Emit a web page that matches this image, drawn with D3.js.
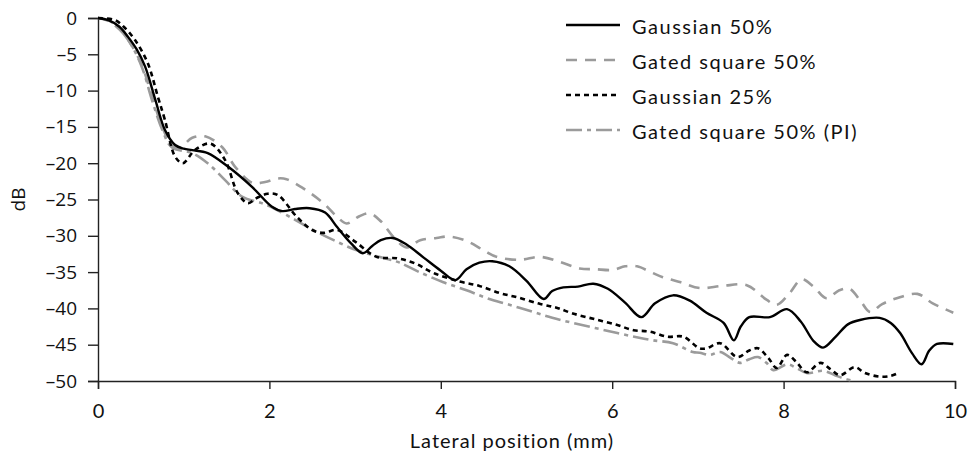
<!DOCTYPE html>
<html>
<head>
<meta charset="utf-8">
<script src="https://cdn.jsdelivr.net/npm/d3@7"></script>
<style>
  html, body { margin: 0; padding: 0; background: #fff; }
  svg { display: block; }
</style>
</head>
<body>
<svg id="chart" width="968" height="461"></svg>
<script>
// ---- Data ----
const seriesNames = ["Gaussian 50%", "Gated square 50%", "Gaussian 25%", "Gated square 50% (PI)"];
const xTicks = [0, 2, 4, 6, 8, 10];
const yTicks = [0, -5, -10, -15, -20, -25, -30, -35, -40, -45, -50];

const gaussian50 = [
  [0,0],[0.12,-0.3],[0.25,-1.2],[0.35,-2.6],[0.45,-4.3],[0.55,-6.7],[0.67,-11.3],[0.78,-15.4],[0.9,-17.5],
  [1.0,-18.0],[1.1,-18.2],[1.28,-18.6],[1.52,-20.5],[1.8,-23.3],[2.03,-26.0],[2.15,-26.6],[2.3,-26.3],
  [2.47,-26.2],[2.65,-26.8],[2.79,-28.8],[2.95,-31.0],[3.09,-32.4],[3.2,-31.4],[3.3,-30.6],[3.44,-30.3],
  [3.6,-31.2],[3.8,-33.0],[4.0,-34.8],[4.17,-36.1],[4.3,-34.6],[4.45,-33.7],[4.6,-33.5],[4.8,-34.2],
  [5.0,-36.2],[5.2,-38.7],[5.3,-37.6],[5.43,-37.1],[5.6,-37.0],[5.78,-36.6],[5.95,-37.3],[6.15,-39.2],
  [6.34,-41.2],[6.5,-39.3],[6.71,-38.2],[6.9,-38.9],[7.1,-40.6],[7.3,-42.0],[7.42,-44.4],[7.5,-42.5],
  [7.6,-41.2],[7.84,-41.2],[8.04,-40.1],[8.2,-41.8],[8.35,-44.5],[8.46,-45.4],[8.6,-44.0],[8.75,-42.2],
  [8.89,-41.6],[9.12,-41.3],[9.25,-42.0],[9.36,-43.4],[9.5,-46.2],[9.61,-47.7],[9.7,-45.8],[9.79,-44.9],
  [9.98,-44.9]
];
const gatedSquare50 = [
  [0,0],[0.12,-0.4],[0.3,-2.2],[0.5,-6.2],[0.63,-10.8],[0.75,-15.0],[0.86,-17.5],[0.95,-17.9],[1.1,-16.5],
  [1.25,-16.3],[1.45,-17.8],[1.6,-20.5],[1.8,-22.7],[1.95,-22.6],[2.1,-22.1],[2.2,-22.2],[2.4,-23.5],
  [2.63,-25.5],[2.8,-27.5],[2.9,-28.3],[3.05,-27.3],[3.17,-26.9],[3.3,-28.0],[3.45,-30.2],[3.6,-31.6],
  [3.76,-30.6],[3.95,-30.3],[4.1,-30.1],[4.3,-30.7],[4.5,-32.0],[4.65,-32.9],[4.92,-33.3],[5.16,-32.9],
  [5.39,-33.6],[5.62,-34.5],[5.8,-34.6],[6.01,-34.7],[6.15,-34.2],[6.29,-34.2],[6.45,-35.0],[6.59,-35.7],
  [6.8,-36.4],[7.02,-37.2],[7.29,-36.9],[7.57,-36.8],[7.8,-38.8],[7.92,-39.5],[8.07,-37.9],[8.21,-36.0],
  [8.35,-37.0],[8.5,-38.6],[8.65,-37.5],[8.77,-37.3],[8.9,-39.0],[9.01,-40.5],[9.15,-39.4],[9.32,-38.6],
  [9.56,-38.0],[9.74,-39.3],[9.98,-40.6]
];
const gaussian25 = [
  [0,0],[0.2,-0.3],[0.3,-1.2],[0.43,-3.0],[0.58,-6.2],[0.7,-10.9],[0.78,-14.0],[0.9,-19.1],[0.99,-20.0],
  [1.13,-18.2],[1.31,-17.3],[1.48,-19.5],[1.63,-24.1],[1.75,-25.5],[1.85,-24.8],[1.98,-24.2],[2.1,-24.4],
  [2.32,-27.4],[2.5,-29.2],[2.63,-29.6],[2.79,-29.2],[3.0,-30.8],[3.25,-32.9],[3.49,-33.1],[3.7,-33.8],
  [3.91,-35.1],[4.22,-36.3],[4.45,-36.9],[4.69,-37.9],[4.9,-38.5],[5.16,-39.4],[5.35,-39.9],[5.54,-40.7],
  [5.8,-41.5],[6.06,-42.3],[6.25,-43.0],[6.44,-43.2],[6.64,-43.9],[6.83,-43.9],[7.02,-45.5],[7.1,-45.5],
  [7.26,-44.8],[7.46,-46.7],[7.6,-45.8],[7.7,-45.5],[7.82,-46.8],[7.92,-48.2],[8.04,-46.4],[8.15,-47.4],
  [8.27,-48.8],[8.43,-47.5],[8.55,-48.4],[8.66,-49.2],[8.83,-48.1],[8.95,-48.9],[9.12,-49.4],[9.25,-49.3],
  [9.32,-49.0]
];
const gatedSquarePI = [
  [0,0],[0.15,-0.5],[0.35,-3.0],[0.51,-6.7],[0.63,-11.3],[0.75,-15.4],[0.86,-17.8],[1.1,-18.6],[1.28,-20.0],
  [1.48,-22.3],[1.68,-24.6],[1.91,-25.5],[2.05,-26.2],[2.3,-27.8],[2.51,-29.2],[2.75,-30.6],[3.02,-32.0],
  [3.41,-33.3],[3.52,-33.7],[3.75,-35.0],[4.03,-36.4],[4.3,-37.5],[4.54,-38.6],[4.8,-39.5],[5.08,-40.5],
  [5.3,-41.3],[5.54,-42.0],[5.8,-42.7],[6.06,-43.4],[6.3,-44.0],[6.48,-44.4],[6.71,-44.8],[6.94,-46.0],
  [7.02,-46.1],[7.14,-46.4],[7.26,-46.0],[7.38,-46.8],[7.49,-47.5],[7.6,-47.0],[7.7,-46.7],[7.8,-47.5],
  [7.88,-48.5],[8.04,-47.7],[8.15,-48.2],[8.27,-48.9],[8.46,-48.6],[8.6,-49.2],[8.69,-49.6],[8.81,-50.0]
];

const seriesData = [gaussian50, gatedSquare50, gaussian25, gatedSquarePI];
const seriesStyle = [
  { color: "#000000", dash: null,          width: 2.4 },
  { color: "#9b9b9b", dash: "11,8",        width: 2.6 },
  { color: "#000000", dash: "5,4",         width: 2.6 },
  { color: "#9b9b9b", dash: "16,5,4,5",    width: 2.6 }
];

// ---- Layout ----
const svg = d3.select("#chart");
const x = d3.scaleLinear().domain([0, 10]).range([98, 955]);
const y = d3.scaleLinear().domain([-50, 0]).range([381, 18]);

const axisColor = "#222";
const tickFont = "'Open Sans', 'Noto Sans', sans-serif";
const textFont = "Lato, 'Open Sans', sans-serif";

// Y axis
const yAxis = d3.axisLeft(y).tickValues(yTicks).tickSize(10).tickPadding(11)
  .tickFormat(d => d === 0 ? "0" : "\u2013" + Math.abs(d));
const gy = svg.append("g").attr("transform", `translate(${x(0)},0)`).call(yAxis);
gy.select(".domain").attr("stroke", axisColor).attr("stroke-width", 1.4);
gy.selectAll(".tick line").attr("stroke", axisColor).attr("stroke-width", 1.4);
gy.selectAll(".tick text").attr("fill", "#111").style("font-family", tickFont).style("font-size", "19px");

// X axis
const xAxis = d3.axisBottom(x).tickValues(xTicks).tickSize(8).tickPadding(15)
  .tickFormat(d3.format("d"));
const gx = svg.append("g").attr("transform", `translate(0,${y(-50)})`).call(xAxis);
gx.select(".domain").attr("stroke", axisColor).attr("stroke-width", 1.4);
gx.selectAll(".tick line").attr("stroke", axisColor).attr("stroke-width", 1.4);
gx.selectAll(".tick text").attr("fill", "#111").style("font-family", textFont).style("font-size", "20px");

// Axis titles
svg.append("text")
  .attr("x", 512).attr("y", 448)
  .attr("text-anchor", "middle")
  .style("font-family", textFont).style("font-size", "20px").style("letter-spacing", "1px")
  .attr("fill", "#111")
  .text("Lateral position (mm)");
svg.append("text")
  .attr("transform", `translate(25,${(y(0) + y(-50)) / 2}) rotate(-90)`)
  .attr("text-anchor", "middle")
  .style("font-family", tickFont).style("font-size", "19px").attr("fill", "#111")
  .text("dB");

// Lines
const line = d3.line()
  .x(d => x(d[0])).y(d => y(d[1]))
  .curve(d3.curveCatmullRom.alpha(0.5));

const draw = [1, 3, 2, 0]; // draw greys first, black on top
draw.forEach(i => {
  svg.append("path")
    .datum(seriesData[i])
    .attr("d", line)
    .attr("fill", "none")
    .attr("stroke", seriesStyle[i].color)
    .attr("stroke-width", seriesStyle[i].width)
    .attr("stroke-dasharray", seriesStyle[i].dash)
    .attr("stroke-linejoin", "round");
});

// Legend
const legend = svg.append("g");
seriesNames.forEach((name, i) => {
  const ly = 25 + i * 35;
  legend.append("line")
    .attr("x1", 566).attr("x2", 620).attr("y1", ly).attr("y2", ly)
    .attr("stroke", seriesStyle[i].color)
    .attr("stroke-width", seriesStyle[i].width)
    .attr("stroke-dasharray", seriesStyle[i].dash);
  legend.append("text")
    .attr("x", 632).attr("y", ly + 1)
    .attr("dominant-baseline", "central")
    .style("font-family", textFont).style("font-size", "20px").style("letter-spacing", "1.5px")
    .attr("fill", "#111")
    .text(name);
});
</script>
</body>
</html>
